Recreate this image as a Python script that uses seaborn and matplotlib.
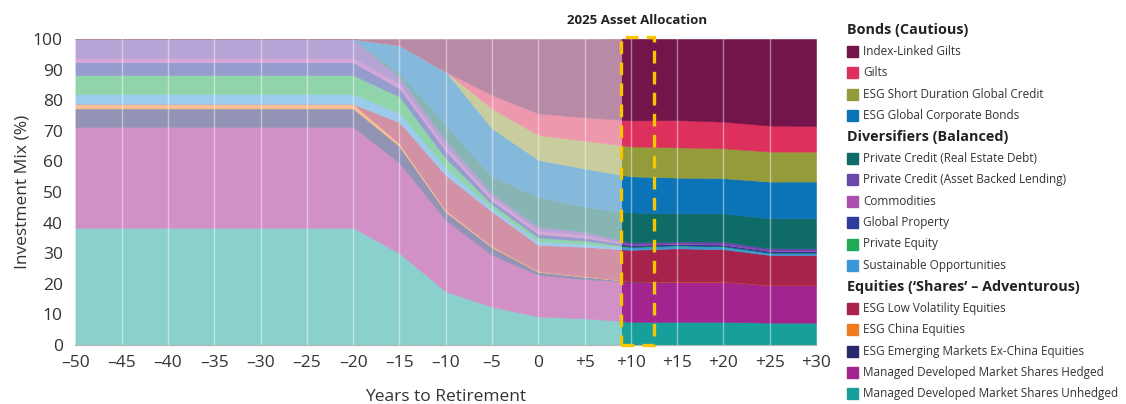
import numpy as np
import pandas as pd
import matplotlib
matplotlib.use("Agg")
import matplotlib.pyplot as plt
from matplotlib.patches import Rectangle
import seaborn as sns

# years to retirement (values constant between -50 and -20)
years = [-50, -20, -15, -10, -5, 0, 5, 10, 15, 20, 25, 30]

# allocation (%) per fund, stacked bottom -> top
unhedged = [38.3, 38.3, 30.0, 17.5, 12.5, 9.3, 8.7, 7.6, 7.6, 7.6, 7.3, 7.3]
hedged = [33.0, 33.0, 29.5, 23.3, 16.9, 13.6, 12.8, 13.1, 13.1, 13.1, 12.3, 12.3]
em_ex_china = [6.0, 6.0, 5.5, 2.7, 2.5, 1.0, 0.8, 0.1, 0, 0, 0, 0]
china = [1.5, 1.5, 0.8, 0.5, 0.4, 0.2, 0.2, 0, 0, 0, 0, 0]
low_vol = [0, 0, 7.0, 11.5, 11.3, 8.6, 9.6, 10.3, 10.9, 10.6, 9.8, 9.8]
sustainable = [3.2, 3.2, 3.0, 2.5, 1.2, 1.2, 1.0, 0.8, 0.8, 0.8, 0.7, 0.7]
private_equity = [6.2, 6.2, 5.4, 3.0, 1.2, 1.2, 1.0, 0.2, 0.2, 0.2, 0.1, 0.1]
global_property = [4.2, 4.2, 2.7, 2.5, 1.2, 1.2, 1.0, 0.5, 0.5, 0.5, 0.5, 0.5]
commodities = [1.5, 1.5, 1.6, 1.5, 1.2, 1.2, 1.0, 0.2, 0.2, 0.2, 0.2, 0.2]
abl = [6.1, 6.1, 2.2, 2.0, 1.2, 1.2, 1.0, 0.7, 0.5, 0.8, 0.7, 0.7]
red = [0, 0, 1.1, 5.0, 5.4, 9.8, 8.1, 9.8, 9.2, 9.2, 9.8, 9.8]
corp_bonds = [0, 0, 9.2, 17.3, 15.8, 12.0, 12.5, 11.8, 11.7, 11.5, 12.0, 12.0]
short_credit = [0, 0, 0, 0, 6.5, 8.1, 9.1, 9.8, 9.9, 9.8, 9.8, 9.8]
gilts = [0, 0, 0, 0, 4.4, 7.1, 7.6, 8.5, 8.9, 8.7, 8.5, 8.4]
il_gilts = [0, 0, 2.0, 10.7, 18.3, 24.3, 25.6, 26.7, 26.5, 27.0, 28.3, 28.4]

names = ["Managed Developed Market Shares Unhedged", "Managed Developed Market Shares Hedged",
         "ESG Emerging Markets Ex-China Equities", "ESG China Equities", "ESG Low Volatility Equities",
         "Sustainable Opportunities", "Private Equity", "Global Property", "Commodities",
         "Private Credit (Asset Backed Lending)", "Private Credit (Real Estate Debt)",
         "ESG Global Corporate Bonds", "ESG Short Duration Global Credit", "Gilts", "Index-Linked Gilts"]
colours = ["#17a09b", "#a3238f", "#28296b", "#f07c22", "#a8234b",
           "#3b97d6", "#20a957", "#2d3b9c", "#a94fb0",
           "#6b49ab", "#0f6b66", "#0b73b8", "#939b3b", "#dd305d", "#73144a"]

groups = [("Bonds (Cautious)", ["Index-Linked Gilts", "Gilts", "ESG Short Duration Global Credit",
                                "ESG Global Corporate Bonds"]),
          ("Diversifiers (Balanced)", ["Private Credit (Real Estate Debt)", "Private Credit (Asset Backed Lending)",
                                       "Commodities", "Global Property", "Private Equity",
                                       "Sustainable Opportunities"]),
          ("Equities (\u2018Shares\u2019 \u2013 Adventurous)", ["ESG Low Volatility Equities", "ESG China Equities",
                                                       "ESG Emerging Markets Ex-China Equities",
                                                       "Managed Developed Market Shares Hedged",
                                                       "Managed Developed Market Shares Unhedged"])]

df = pd.DataFrame(dict(zip(names, [unhedged, hedged, em_ex_china, china, low_vol, sustainable,
                                   private_equity, global_property, commodities, abl, red,
                                   corp_bonds, short_credit, gilts, il_gilts])), index=years)

sns.set_style("white")
plt.rcParams["font.family"] = ["Open Sans", "DejaVu Sans"]

W, H = 1126, 404
fig = plt.figure(figsize=(W / 100, H / 100), dpi=100)
ax = fig.add_axes([75.4 / W, 1 - 345 / H, (816 - 75.4) / W, 306 / H])

full = sns.color_palette(colours)
faded = [tuple(0.5 * c + 0.5 for c in col) for col in full]
col_of = dict(zip(names, full))

split = 9  # where the current allocation starts
vals = [df[n].values for n in names]
for cols, x0, w in [(faded, -50, split + 50), (full, split, 30 - split)]:
    polys = ax.stackplot(df.index, *vals, colors=cols, linewidth=0.4)
    clip = Rectangle((x0, -1), w, 102, transform=ax.transData)
    for p, c in zip(polys, cols):
        p.set_edgecolor(c)
        p.set_clip_path(clip)

for x in range(-45, 30, 5):
    ax.axvline(x, color="white", lw=1, alpha=0.45, zorder=3)

ax.set_xlim(-50, 30)
ax.set_ylim(0, 100)
xt = list(range(-50, 31, 5))
ax.set_xticks(xt)
ax.set_xticklabels([("+%d" % t) if t > 0 else ("\u2013%d" % -t if t < 0 else "0") for t in xt])
ax.set_yticks(range(0, 101, 10))
ax.tick_params(length=0, labelsize=12.5, colors="#333333")
ax.tick_params(axis="x", pad=7)
ax.tick_params(axis="y", pad=9)
sns.despine(ax=ax, left=True)
ax.spines["bottom"].set_color("#b5b5b5")
ax.set_xlabel("Years to Retirement", fontsize=12.5, color="#333333", labelpad=13)
ax.set_ylabel("Investment Mix (%)", fontsize=12.5, color="#333333", labelpad=2)

# current allocation box
ax.add_patch(Rectangle((8.9, 0), 3.6, 100.6, fill=False, ec="#f7c600", lw=2.4,
                       ls=(0, (3.8, 2.5)), clip_on=False, zorder=5))
ax.text(10.7, 106.2, "2025 Asset Allocation", ha="center", va="center",
        fontsize=9.5, fontweight="bold", color="#222222", clip_on=False)

# legend, drawn by hand
row = 0
for head, items in groups:
    y = 30 + 21.4 * row
    fig.text(847 / W, 1 - y / H, head, va="center", ha="left", fontsize=10.4,
             fontweight="bold", color="#222222")
    row += 1
    for it in items:
        y = 30 + 21.4 * row
        fig.add_artist(Rectangle((847 / W, 1 - (y + 5.5) / H), 11 / W, 11 / H,
                                 transform=fig.transFigure, color=col_of[it]))
        fig.text(863 / W, 1 - y / H, it, va="center", ha="left", fontsize=8.5, color="#333333")
        row += 1

fig.savefig("out.png", dpi=100)
